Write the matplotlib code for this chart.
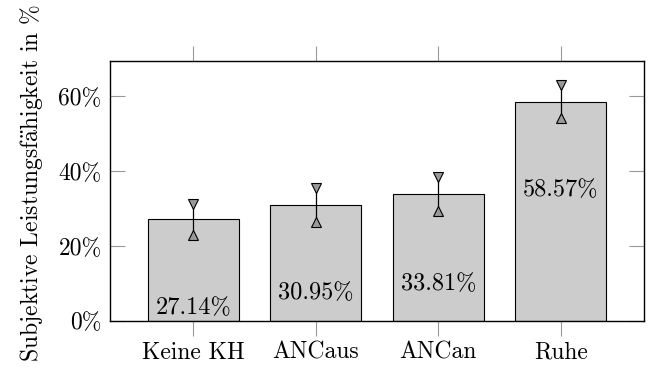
import numpy as np
import matplotlib
matplotlib.use('Agg')
import matplotlib.pyplot as plt
from matplotlib.ticker import FuncFormatter

# Computer Modern look
plt.rcParams.update({'font.family': 'serif',
                     'font.serif': ['cmr10'],
                     'mathtext.fontset': 'cm',
                     'axes.unicode_minus': False,
                     'font.size': 17})

# Data
categories = ['Keine KH', 'ANCaus', 'ANCan', 'Ruhe']
values = [27.14, 30.95, 33.81, 58.57]
errors = [4.1, 4.5, 4.5, 4.5]
label_y = [3.5, 7.5, 9.9, 35.0]

fig = plt.figure(figsize=(6.53, 3.78), dpi=100)
ax = fig.add_axes([0.1685, 0.1508, 0.8177, 0.6878])

x = np.arange(len(categories))
ax.bar(x, values, width=0.74, color='#cccccc', edgecolor='black', linewidth=0.8, zorder=2)

# Error bars with triangle end markers
for xi, v, e in zip(x, values, errors):
    ax.plot([xi, xi], [v - e, v + e], color='black', linewidth=0.9, zorder=3)
    ax.plot(xi, v + e, marker='v', markersize=7.5, markerfacecolor='#999999',
            markeredgecolor='black', markeredgewidth=0.8, zorder=4)
    ax.plot(xi, v - e, marker='^', markersize=7.5, markerfacecolor='#999999',
            markeredgecolor='black', markeredgewidth=0.8, zorder=4)

for xi, v, ly in zip(x, values, label_y):
    ax.text(xi, ly, f'{v:.2f}%', ha='center', va='center', fontsize=17.5, zorder=5)

ax.set_xlim(-0.68, 3.68)
ax.set_ylim(0, 69.4)
ax.set_xticks(x)
ax.set_xticklabels(categories, fontsize=17)
ax.set_yticks([0, 20, 40, 60])
ax.yaxis.set_major_formatter(FuncFormatter(lambda v, p: f'{v:.0f}%'))
ax.tick_params(axis='y', direction='in', length=11, color='#999999', left=True, right=True, labelsize=17, pad=6)
ax.tick_params(axis='x', direction='out', length=11, color='#999999', top=True, bottom=True, labelsize=17, pad=4)
for s in ax.spines.values():
    s.set_linewidth(1.0)
    s.set_zorder(6)
ax.set_ylabel(r'Subjektive Leistungsf$\ddot{\mathrm{a}}$higkeit in %', fontsize=17)
ax.yaxis.set_label_coords(-0.122, 0.53)

fig.savefig('out.png', dpi=100)
